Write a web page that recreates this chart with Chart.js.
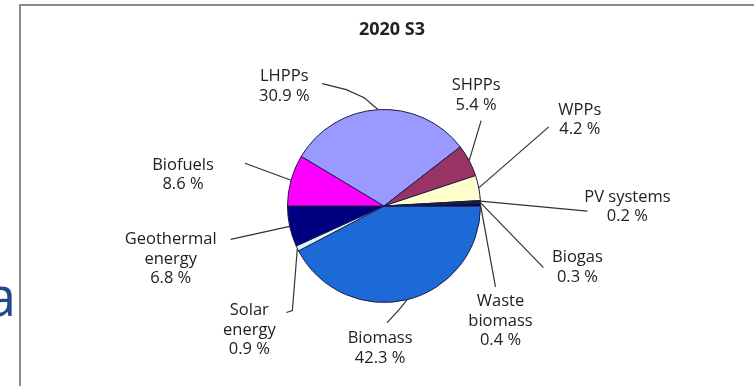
<!DOCTYPE html>
<html>
<head>
<meta charset="utf-8">
<script src="https://cdn.jsdelivr.net/npm/chart.js@4.4.0/dist/chart.umd.min.js"></script>
<style>
  html, body { margin: 0; padding: 0; background: #fff; }
  #wrap { position: relative; width: 754px; height: 386px; overflow: hidden; }
</style>
</head>
<body>
<div id="wrap"><canvas id="pieChart" width="754" height="386"></canvas></div>
<script>
// data, clockwise from 3 o'clock
const chartTitle = '2020 S3';
const categories = ['Biomass', 'Solar energy', 'Geothermal energy', 'Biofuels', 'LHPPs',
    'SHPPs', 'WPPs', 'PV systems', 'Biogas', 'Waste biomass'];
const shares = [42.3, 0.9, 6.8, 8.6, 30.9, 5.4, 4.2, 0.2, 0.3, 0.4];

const sliceColors = ['#1b6ad6', '#d8f2ff', '#000080', '#ff00ff', '#9999ff',
    '#993366', '#ffffcc', '#111133', '#1a1a1a', '#000033'];

// label placement, relative to the point where the slice's mid-angle meets the rim
// leader: bend points, text: centre of first line, wrap: break name on space
const labelLayout = [
    { leader: [[-8, 10], [-20, 23]], text: [-27, 39], wrap: false },
    { leader: [[-5, 62], [-11, 64]], text: [-48, 62], wrap: true },
    { leader: [[-59, 13]], text: [-119, 13], wrap: true },
    { leader: [[-46, -17]], text: [-108, -15], wrap: false },
    { leader: [[-14, -12], [-32, -20], [-56, -26]], text: [-94, -33], wrap: false },
    { leader: [[12, -40]], text: [7, -75], wrap: false },
    { leader: [[70, -61]], text: [101, -78], wrap: false },
    { leader: [[107, 10]], text: [147, -4], wrap: false },
    { leader: [[63, 65]], text: [97, 55], wrap: false },
    { leader: [[15, 82]], text: [20, 97], wrap: true },
];

const pageDecor = {
    id: 'pageDecor',
    beforeDraw(chart) {
        const ctx = chart.ctx;
        ctx.save();
        ctx.fillStyle = '#fff';
        ctx.fillRect(0, 0, chart.width, chart.height);
        // frame of the slide box (only left and top edges are visible)
        ctx.strokeStyle = '#8c8c8c';
        ctx.lineWidth = 2;
        ctx.beginPath();
        ctx.moveTo(20, chart.height + 5);
        ctx.lineTo(20, 5);
        ctx.lineTo(chart.width + 5, 5);
        ctx.stroke();
        // cut-off letter of the slide text
        ctx.fillStyle = '#1f4a8c';
        ctx.font = '54px "Open Sans"';
        ctx.textAlign = 'left';
        ctx.textBaseline = 'alphabetic';
        ctx.fillText('a', -14, 316);
        ctx.restore();
    },
    afterDraw(chart) {
        const ctx = chart.ctx;
        const meta = chart.getDatasetMeta(0);
        ctx.save();
        ctx.fillStyle = '#222';
        ctx.font = 'bold 18px "Open Sans"';
        ctx.textAlign = 'center';
        ctx.textBaseline = 'middle';
        ctx.fillText(chartTitle, chart.width / 2 + 15, 30);

        ctx.font = '16.5px "Open Sans"';
        ctx.strokeStyle = '#333';
        ctx.lineWidth = 1.2;
        meta.data.forEach((arc, i) => {
            const p = arc.getProps(['x', 'y', 'startAngle', 'endAngle', 'outerRadius'], true);
            const mid = (p.startAngle + p.endAngle) / 2;
            const ax = p.x + Math.cos(mid) * p.outerRadius;
            const ay = p.y + Math.sin(mid) * p.outerRadius;
            const lay = labelLayout[i];
            ctx.beginPath();
            ctx.moveTo(ax, ay);
            lay.leader.forEach(pt => ctx.lineTo(ax + pt[0], ay + pt[1]));
            ctx.stroke();

            const lines = lay.wrap ? categories[i].split(' ') : [categories[i]];
            lines.push(shares[i].toFixed(1) + ' %');
            lines.forEach((t, k) => {
                ctx.fillText(t, ax + lay.text[0], ay + lay.text[1] + k * 19.5);
            });
        });
        ctx.restore();
    }
};

new Chart(document.getElementById('pieChart').getContext('2d'), {
    type: 'pie',
    data: {
        labels: categories,
        datasets: [{
            data: shares,
            backgroundColor: sliceColors,
            borderColor: '#1c1c4e',
            borderWidth: 1,
        }]
    },
    options: {
        responsive: false,
        animation: false,
        rotation: 90,
        layout: {
            padding: { left: 287, right: 273, top: 109, bottom: 83 }
        },
        plugins: {
            legend: { display: false },
            tooltip: { enabled: false },
            title: { display: false }
        }
    },
    plugins: [pageDecor]
});
</script>
</body>
</html>
